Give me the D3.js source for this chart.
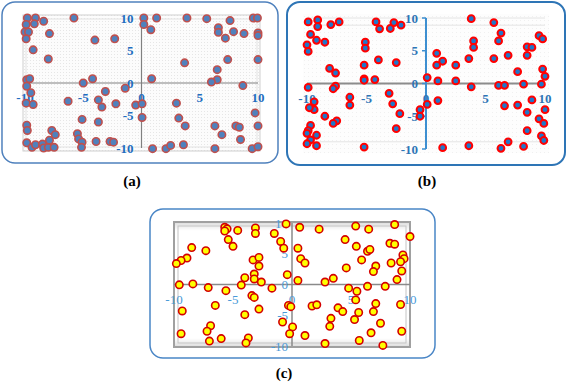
<!DOCTYPE html>
<html>
<head>
<meta charset="utf-8">
<script src="https://cdn.jsdelivr.net/npm/d3@7"></script>
<style>
  body { margin: 0; background: #fff; }
  svg { display: block; }
  text { font-family: "Liberation Serif", "Times New Roman", serif; }
</style>
</head>
<body>
<div id="chart"></div>
<script>
const tickValues = [-10, -5, 0, 5, 10]
const panelLabels = ['(a)', '(b)', '(c)']

// points, [x, y]
const pointsA = [
  [-9.8,10],[-9.1,10],[-8.4,9.5],[-5.8,10],[-9.9,9.0],[-9.2,9.1],
  [-10,7.85],[-9.7,7.85],[-9.9,6.8],[-7.9,7.6],[-9.3,5.1],[-8.0,3.7],
  [-4.0,6.6],[-2.3,6.8],
  [-9.85,0.5],[-9.6,0.66],[-9.85,-0.5],[-9.5,-1.5],[-9.9,-3.1],[-9.3,-3.3],
  [-5.0,0],[-4.2,0.66],[-3.1,-1.3],[-1.4,-0.8],[-6.3,-2.8],[-3.7,-2.6],[-3.4,-3.7],[-2.2,-3.2],[-0.5,-3.4],
  [-5.1,-5.6],[-3.7,-6.0],
  [-9.85,-6.5],[-9.8,-7.3],[-7.7,-7.3],[-7.4,-7.95],[-5.5,-7.8],[-5.4,-8.6],[-5.1,-9.1],[-3.9,-9.0],[-2.7,-9.0],[-2.4,-9.1],
  [-9.85,-9.2],[-9.4,-9.9],[-9.1,-9.5],[-8.5,-9.4],[-8.4,-10],[-8.0,-9.9],[-7.9,-8.8],[-7.5,-9.9],[-5.15,-9.9],
  [0.2,10],[0.2,9.0],[0.8,8.2],[1.3,10],[3.9,10],[5.6,9.9],[7.6,9.6],[6.6,8.5],[6.6,7.8],[7.2,6.9],[7.9,7.9],[8.8,7.6],[9.6,10],[9.95,10],[10,7.7],[10,7.3],
  [3.7,3.1],[7.4,3.6],[10,3.6],[6.5,2.05],[6.5,0.5],[6.0,0.15],[8.7,-0.4],[0.87,0.66],
  [0.05,-3.2],[3.0,-3.1],[0.05,-5.3],[3.2,-5.4],[3.75,-6.6],[6.3,-6.6],[6.9,-7.95],[8.1,-6.6],[8.4,-6.8],[8.5,-8.7],[9.75,-4.6],[10,-6.6],
  [0.95,-10.1],[2.1,-10.1],[2.5,-9.6],[3.6,-9.5],[6.3,-10.1],[9.5,-10.1],[10,-9.8]
]

const pointsB = [
  [-9.9,9.4],[-9.1,9.7],[-9.1,8.7],[-8.0,9.0],[-7.3,9.4],[-4.2,9.4],[-3.9,8.35],[-3.0,8.4],[-2.7,9.3],[-2.1,8.9],
  [-9.7,7.5],[-9.2,6.6],[-8.5,6.3],[-10,5.9],[-9.9,4.9],[-5.1,6.3],[-5.1,5.4],[-5.2,2.8],[-4.0,3.6],[-2.5,3.2],
  [-8.1,2.3],[-7.6,1.6],[-5.2,0.7],[-5.2,0.5],[-4.3,0.6],[-9.9,-0.6],[-7.6,-0.4],[-7.8,-0.8],
  [-6.4,-2.1],[-6.4,-3.3],[-3.1,-1.5],[-2.8,-3.1],[-2.2,-4.6],[-2.5,-6.9],
  [-9.4,-2.8],[-9.4,-4.0],[-9.8,-3.7],[-8.5,-5.0],[-7.5,-5.7],[-7.8,-6.1],[-9.7,-6.4],[-9.9,-7.2],[-10,-7.6],[-9.7,-8.6],[-9.2,-7.9],[-10,-9.2],[-9.2,-9.5],[-5.2,-9.7],
  [-0.5,-4.0],[-0.5,-5.0],[0.1,-3.2],[0.1,0.9],
  [0.9,4.6],[0.9,2.8],[1.4,3.4],[2.5,2.8],[1.0,0.4],[2.5,0.4],[1.0,-2.6],[1.4,-9.8],
  [3.6,3.8],[4.0,6.5],[4.0,5.5],[3.8,9.9],[3.8,-0.5],[3.6,-9.5],
  [5.7,9.3],[5.7,3.8],[6.3,7.7],[6.1,6.5],[6.9,4.3],[6.1,-0.3],[6.6,-0.3],[6.6,-3.4],[6.3,-9.9],[6.9,-8.9],
  [7.7,1.8],[7.7,-3.3],[8.2,-0.1],[8.5,5.6],[8.9,5.5],[8.5,4.3],[8.9,-2.5],[8.5,-4.4],[8.5,-7.2],[8.2,-9.6],
  [9.5,7.3],[9.8,6.8],[9.8,2.2],[10,1.1],[9.7,-0.1],[10,-4.0],[9.5,-5.4],[9.9,-6.1],[9.7,-8.0],[9.9,-8.7]
]

const pointsC = [
  [-5.7,9.3],[-5.5,9.05],[-5.7,8.7],[-4.6,8.8],[-3.1,9.2],[-3.1,8.3],[-1.5,8.3],[-0.5,9.85],
  [-5.4,7.3],[-5.0,6.2],[-0.96,7.0],[-0.7,5.9],[-8.5,6.0],[-7.3,5.5],[-8.9,4.3],[-9.4,3.9],[-9.8,3.4],
  [-3.3,4.0],[-2.8,4.4],[-2.8,3.0],[-3.2,1.7],[-3.2,0.9],[-4.0,1.1],[-2.6,0.4],[-4.3,-0.1],[-0.4,1.6],
  [-9.55,-0.05],[-8.4,0.1],[-7.1,-0.5],[-5.6,-1.0],[-1.7,-0.6],[-3.4,-1.8],[-3.2,-2.1],
  [-6.5,-3.4],[-9.3,-4.3],[-2.8,-4.0],[-4.0,-4.9],[-0.3,-3.4],[-0.1,-3.6],[-0.8,-6.1],[0.05,-6.9],[-0.2,-8.0],
  [-9.4,-8.0],[-6.9,-6.7],[-7.2,-7.6],[-7.0,-9.2],[-6.0,-8.8],[-3.7,-8.7],[-3.9,-9.5],
  [0.65,9.3],[2.3,9.0],[5.4,9.5],[6.5,9.0],[8.7,9.75],[10,7.8],[4.5,7.3],[5.45,6.2],[6.4,5.4],[6.6,5.7],
  [8.3,6.7],[8.7,6.55],[0.5,5.9],[0.74,4.2],[1.1,3.5],[5.9,4.0],[7.1,3.0],[6.9,2.1],[4.6,2.7],[8.4,3.5],
  [9.4,4.8],[9.5,4.2],[9.2,3.7],[9.3,2.2],[8.9,0.8],[0.5,0.65],[2.8,0.4],[3.5,1.0],
  [4.8,-0.6],[5.5,-1.1],[6.4,-0.3],[7.9,-0.3],[5.4,-2.5],[7.1,-3.1],[9.2,-3.25],
  [1.7,-3.5],[2.1,-3.3],[3.9,-3.8],[4.3,-4.4],[5.65,-4.55],[6.9,-4.4],[3.3,-5.5],[3.2,-6.8],[5.3,-5.7],
  [1.1,-8.3],[2.8,-9.6],[5.7,-9.1],[6.7,-7.85],[7.5,-6.3],[7.7,-9.9],[9.3,-7.6]
]

const width = 568, height = 383

const svg = d3.select('#chart')
  .append('svg')
    .attr('width', width)
    .attr('height', height)

const defs = svg.append('defs')
defs.append('pattern')
    .attr('id', 'stipple')
    .attr('width', 3)
    .attr('height', 3)
    .attr('patternUnits', 'userSpaceOnUse')
  .call(p => p.append('rect').attr('width', 3).attr('height', 3).attr('fill', '#fcfcfc'))
  .call(p => p.append('rect').attr('width', 1).attr('height', 1).attr('fill', '#e6e6e6'))

defs.append('pattern')
    .attr('id', 'stippleLight')
    .attr('width', 4)
    .attr('height', 4)
    .attr('patternUnits', 'userSpaceOnUse')
  .call(p => p.append('rect').attr('width', 4).attr('height', 4).attr('fill', '#fdfdfd'))
  .call(p => p.append('rect').attr('width', 1).attr('height', 1).attr('fill', '#f0f0f0'))

const bevel = defs.append('linearGradient')
    .attr('id', 'bevel')
    .attr('x1', 0).attr('y1', 0).attr('x2', 0).attr('y2', 1)
bevel.append('stop').attr('offset', '0%').attr('stop-color', '#dcdcdc')
bevel.append('stop').attr('offset', '7%').attr('stop-color', '#ffffff')
bevel.append('stop').attr('offset', '93%').attr('stop-color', '#ffffff')
bevel.append('stop').attr('offset', '100%').attr('stop-color', '#dcdcdc')

const panels = [
  { data: pointsA, label: panelLabels[0], box: [2, 2, 276, 161], labelPos: [132, 186],
    x: [25, 258], y: [148, 18], boxStroke: '#4f81bd', boxWidth: 1.5,
    fill: '#4f81bd', stroke: '#c0504d', r: 3.7, sw: 1.6,
    axis: '#808080', yAxis: '#808080', axisWidth: 1.2, text: '#1f6dc0', weight: 'bold',
    frame: 'a', yTicks: false, grid: [] },
  { data: pointsB, label: panelLabels[1], box: [287, 2, 278, 163], labelPos: [427, 186],
    x: [307, 545], y: [149, 18], boxStroke: '#2e75b6', boxWidth: 2,
    fill: '#1f77c9', stroke: '#ff0000', r: 3.4, sw: 2,
    axis: '#8c8c8c', yAxis: '#3d8fd1', axisWidth: 2, text: '#2e75b6', weight: 'bold',
    frame: 'b', yTicks: true, grid: [10, 8.9, -8.9] },
  { data: pointsC, label: panelLabels[2], box: [150, 209, 285, 149], labelPos: [284, 378],
    x: [174, 410], y: [346, 223], boxStroke: '#4a86c6', boxWidth: 1.5,
    fill: '#ffff00', stroke: '#d40000', r: 3.7, sw: 1.6,
    axis: '#8a8a8a', yAxis: '#8a8a8a', axisWidth: 1.5, text: '#4a9ad8', weight: 'normal',
    frame: 'c', yTicks: false, grid: [] }
]

panels.forEach(function(p) {
  const g = svg.append('g')
  const x = d3.scaleLinear().domain([-10, 10]).range(p.x)
  const y = d3.scaleLinear().domain([-10, 10]).range(p.y)
  const x0 = x(0), y0 = y(0)

  // rounded panel box
  g.append('rect')
    .attr('x', p.box[0]).attr('y', p.box[1])
    .attr('width', p.box[2]).attr('height', p.box[3])
    .attr('rx', 13).attr('ry', 13)
    .attr('fill', '#fff')
    .attr('stroke', p.boxStroke)
    .attr('stroke-width', p.boxWidth)

  // plot area background / frame
  if (p.frame == 'a') {
    g.append('rect')
      .attr('x', x(-10) - 2).attr('y', y(10) - 3)
      .attr('width', x(10) - x(-10) + 4).attr('height', y(-10) - y(10) + 6)
      .attr('fill', 'url(#stipple)')
      .attr('stroke', '#cfcfcf').attr('stroke-width', 1)
    g.append('rect')
      .attr('x', x(-10) + 1).attr('y', y(10) + 1)
      .attr('width', x(10) - x(-10) - 2).attr('height', y(-10) - y(10) - 2)
      .attr('fill', 'none')
      .attr('stroke', '#e2e2e2').attr('stroke-width', 1)
  } else if (p.frame == 'b') {
    g.append('rect')
      .attr('x', x(-10) - 4).attr('y', y(10) - 4)
      .attr('width', x(10) - x(-10) + 8).attr('height', y(-10) - y(10) + 8)
      .attr('fill', 'url(#stippleLight)')
  } else {
    g.append('rect')
      .attr('x', x(-10)).attr('y', y(10) - 1)
      .attr('width', x(10) - x(-10)).attr('height', y(-10) - y(10) + 2)
      .attr('fill', 'url(#bevel)')
      .attr('stroke', '#a0a0a0').attr('stroke-width', 2)
    g.append('rect')
      .attr('x', x(-10) + 4).attr('y', y(10) + 3)
      .attr('width', x(10) - x(-10) - 8).attr('height', y(-10) - y(10) - 6)
      .attr('fill', 'none')
      .attr('stroke', '#c4c4c4').attr('stroke-width', 1)
  }

  g.selectAll('.grid')
    .data(p.grid)
    .join('line')
      .attr('x1', x(-10)).attr('x2', x(10))
      .attr('y1', d => y(d)).attr('y2', d => y(d))
      .attr('stroke', '#e4e4e4').attr('stroke-width', 1)

  // crossing axes
  g.append('line')
    .attr('x1', x(-10)).attr('x2', x(10))
    .attr('y1', y0).attr('y2', y0)
    .attr('stroke', p.axis).attr('stroke-width', p.axisWidth)
  g.append('line')
    .attr('x1', x0).attr('x2', x0)
    .attr('y1', y(10)).attr('y2', y(-10))
    .attr('stroke', p.yAxis).attr('stroke-width', p.axisWidth)

  if (p.yTicks) {
    g.selectAll('.ytick')
      .data(tickValues)
      .join('line')
        .attr('x1', x0 - 4).attr('x2', x0)
        .attr('y1', d => y(d)).attr('y2', d => y(d))
        .attr('stroke', p.yAxis).attr('stroke-width', 1.5)
  }

  // tick labels
  g.selectAll('.xlab')
    .data(tickValues)
    .join('text')
      .attr('x', d => x(d))
      .attr('y', y0 + 19)
      .attr('text-anchor', 'middle')
      .attr('font-size', 13)
      .attr('font-weight', p.weight)
      .attr('fill', p.text)
      .text(d => d)

  g.selectAll('.ylab')
    .data(tickValues)
    .join('text')
      .attr('x', x0 - (p.frame == 'c' ? 4 : 8))
      .attr('y', d => y(d))
      .attr('dy', '0.35em')
      .attr('text-anchor', 'end')
      .attr('font-size', 13)
      .attr('font-weight', p.weight)
      .attr('fill', p.text)
      .text(d => d)

  // points
  g.selectAll('circle')
    .data(p.data)
    .join('circle')
      .attr('cx', d => x(d[0]))
      .attr('cy', d => y(d[1]))
      .attr('r', p.r)
      .attr('fill', p.fill)
      .attr('stroke', p.stroke)
      .attr('stroke-width', p.sw)

  // panel caption
  svg.append('text')
    .attr('x', p.labelPos[0])
    .attr('y', p.labelPos[1])
    .attr('text-anchor', 'middle')
    .attr('font-size', 15)
    .attr('font-weight', 'bold')
    .attr('fill', '#000')
    .text(p.label)
})
</script>
</body>
</html>
